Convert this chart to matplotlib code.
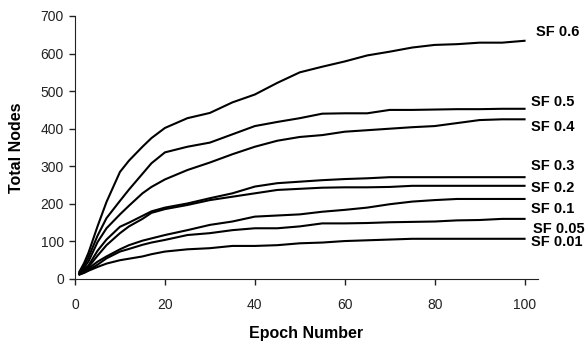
import matplotlib
matplotlib.use('Agg')
import matplotlib.pyplot as plt

plt.rcParams['font.family'] = ['Liberation Sans', 'DejaVu Sans']

epochs = [1, 2, 3, 5, 7, 10, 12, 15, 17, 20, 25, 30, 35, 40, 45, 50,
          55, 60, 65, 70, 75, 80, 85, 90, 95, 100]

sf06 = [20, 42, 70, 140, 205, 285, 315, 352, 375, 402, 428, 442, 470, 491, 522, 550,
        565, 579, 595, 605, 616, 623, 625, 629, 629, 634]
sf05 = [18, 35, 58, 115, 162, 208, 238, 280, 308, 337, 352, 363, 385, 407, 418, 428,
        440, 441, 441, 450, 450, 451, 452, 452, 453, 453]
sf04 = [16, 30, 47, 98, 135, 172, 195, 228, 245, 265, 290, 310, 332, 352, 368, 378,
        383, 392, 396, 400, 404, 407, 415, 423, 425, 425]
sf03 = [15, 25, 36, 75, 105, 139, 150, 168, 180, 190, 201, 215, 228, 246, 255, 259,
        263, 266, 268, 271, 271, 271, 271, 271, 271, 271]
sf02 = [14, 22, 32, 62, 90, 122, 140, 160, 176, 186, 197, 210, 219, 228, 237, 240,
        243, 244, 244, 245, 248, 248, 248, 248, 248, 248]
sf01 = [13, 20, 28, 46, 60, 79, 90, 102, 108, 117, 130, 144, 153, 166, 169, 172,
        179, 184, 190, 199, 206, 210, 213, 213, 213, 213]
sf005 = [12, 18, 24, 38, 55, 73, 80, 91, 97, 104, 117, 122, 130, 135, 135, 140,
         148, 148, 149, 151, 152, 153, 156, 157, 160, 160]
sf001 = [12, 16, 22, 32, 41, 50, 54, 60, 66, 73, 79, 82, 88, 88, 90, 95,
         97, 101, 103, 105, 107, 107, 107, 107, 107, 107]

series = [sf06, sf05, sf04, sf03, sf02, sf01, sf005, sf001]
names = ['SF 0.6', 'SF 0.5', 'SF 0.4', 'SF 0.3', 'SF 0.2', 'SF 0.1', 'SF 0.05', 'SF 0.01']
# label offsets (points) from the end of each line
offsets = [(8, 6), (5, 5), (5, -5.5), (5, 8), (5, -1.5), (5, -7), (6, -7), (5, -2.5)]

fig = plt.figure(figsize=(5.88, 3.43), dpi=100)
ax = fig.add_axes([0.1276, 0.1866, 0.7874, 0.7668])

for vals, name, off in zip(series, names, offsets):
    ax.plot(epochs, vals, color='black', linewidth=1.5)
    ax.annotate(name, xy=(epochs[-1], vals[-1]), xytext=off, textcoords='offset points',
                va='center', ha='left', fontsize=10.5, fontweight='bold', annotation_clip=False)

ax.set_xlim(0, 103)
ax.set_ylim(0, 700)
ax.set_xticks([0, 20, 40, 60, 80, 100])
ax.set_yticks(range(0, 701, 100))
ax.spines['top'].set_visible(False)
ax.spines['right'].set_visible(False)
ax.spines['left'].set_color('#222222')
ax.spines['bottom'].set_color('#222222')
ax.tick_params(axis='y', length=4, width=1, labelsize=10, pad=4, colors='#222222')
ax.tick_params(axis='x', length=4, width=1, labelsize=10, pad=10, colors='#222222')

ax.set_xlabel('Epoch Number', fontsize=11.5, fontweight='bold', labelpad=10)
ax.set_ylabel('Total Nodes', fontsize=11.5, fontweight='bold', labelpad=12)

plt.savefig('out.png', dpi=100)
